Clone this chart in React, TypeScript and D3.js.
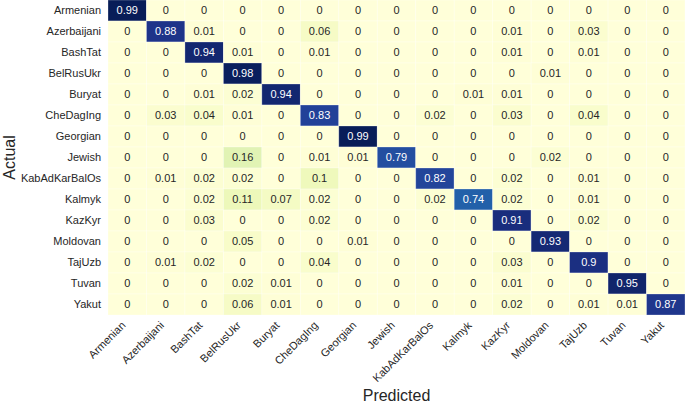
import React from "react";
import * as d3 from "d3";

const categories = ["Armenian","Azerbaijani","BashTat","BelRusUkr","Buryat","CheDagIng","Georgian","Jewish","KabAdKarBalOs","Kalmyk","KazKyr","Moldovan","TajUzb","Tuvan","Yakut"];

const matrix: number[][] = [
  [0.99,0,0,0,0,0,0,0,0,0,0,0,0,0,0],
  [0,0.88,0.01,0,0,0.06,0,0,0,0,0.01,0,0.03,0,0],
  [0,0,0.94,0.01,0,0.01,0,0,0,0,0.01,0,0.01,0,0],
  [0,0,0,0.98,0,0,0,0,0,0,0,0.01,0,0,0],
  [0,0,0.01,0.02,0.94,0,0,0,0,0.01,0.01,0,0,0,0],
  [0,0.03,0.04,0.01,0,0.83,0,0,0.02,0,0.03,0,0.04,0,0],
  [0,0,0,0,0,0,0.99,0,0,0,0,0,0,0,0],
  [0,0,0,0.16,0,0.01,0.01,0.79,0,0,0,0.02,0,0,0],
  [0,0.01,0.02,0.02,0,0.1,0,0,0.82,0,0.02,0,0.01,0,0],
  [0,0,0.02,0.11,0.07,0.02,0,0,0.02,0.74,0.02,0,0.01,0,0],
  [0,0,0.03,0,0,0.02,0,0,0,0,0.91,0,0.02,0,0],
  [0,0,0,0.05,0,0,0.01,0,0,0,0,0.93,0,0,0],
  [0,0.01,0.02,0,0,0.04,0,0,0,0,0.03,0,0.9,0,0],
  [0,0,0,0.02,0.01,0,0,0,0,0,0.01,0,0,0.95,0],
  [0,0,0,0.06,0.01,0,0,0,0,0,0.02,0,0.01,0.01,0.87],
];

const xLabel = "Predicted";
const yLabel = "Actual";

export default function App() {
  const W = 685, H = 404;
  const left = 108, top = 0, gridW = 577, gridH = 315;
  const x = d3.scaleBand<string>().domain(categories).range([left, left + gridW]);
  const y = d3.scaleBand<string>().domain(categories).range([top, top + gridH]);
  const color = d3.scaleSequential(d3.interpolateYlGnBu).domain([0, 0.99]);
  const font = "'Liberation Sans', Arial, sans-serif";
  const fmt = (v: number) => (v === 0 ? "0" : String(+v.toFixed(2)));

  return (
    <svg width={W} height={H} style={{ position: "absolute", left: 0, top: 0, background: "#fff" }} fontFamily={font}>
      <g>
        {matrix.map((row, i) =>
          row.map((v, j) => (
            <rect key={`r${i}-${j}`} x={x(categories[j])} y={y(categories[i])}
              width={x.bandwidth()} height={y.bandwidth()} fill={color(v)}
              stroke="#ffffff" strokeOpacity={0.35} strokeWidth={0.8} />
          ))
        )}
        {matrix.map((row, i) =>
          row.map((v, j) => (
            <text key={`t${i}-${j}`} x={(x(categories[j]) as number) + x.bandwidth() / 2}
              y={(y(categories[i]) as number) + y.bandwidth() / 2} dy="0.36em"
              textAnchor="middle" fontSize={11} fill={v > 0.5 ? "#ffffff" : "#262626"}>
              {fmt(v)}
            </text>
          ))
        )}
      </g>
      <g>
        {categories.map((c) => (
          <text key={`y${c}`} x={left - 7} y={(y(c) as number) + y.bandwidth() / 2} dy="0.36em"
            textAnchor="end" fontSize={11} fill="#262626">{c}</text>
        ))}
      </g>
      <g>
        {categories.map((c) => (
          <text key={`x${c}`} textAnchor="end" fontSize={11} fill="#262626"
            transform={`translate(${(x(c) as number) + x.bandwidth() / 2 - 1},${top + gridH + 11}) rotate(-45)`}>{c}</text>
        ))}
      </g>
      <text x={left + gridW / 2} y={401} textAnchor="middle" fontSize={16} fill="#262626">{xLabel}</text>
      <text transform={`translate(${15},${top + gridH / 2}) rotate(-90)`} textAnchor="middle" fontSize={16} fill="#262626">{yLabel}</text>
    </svg>
  );
}
